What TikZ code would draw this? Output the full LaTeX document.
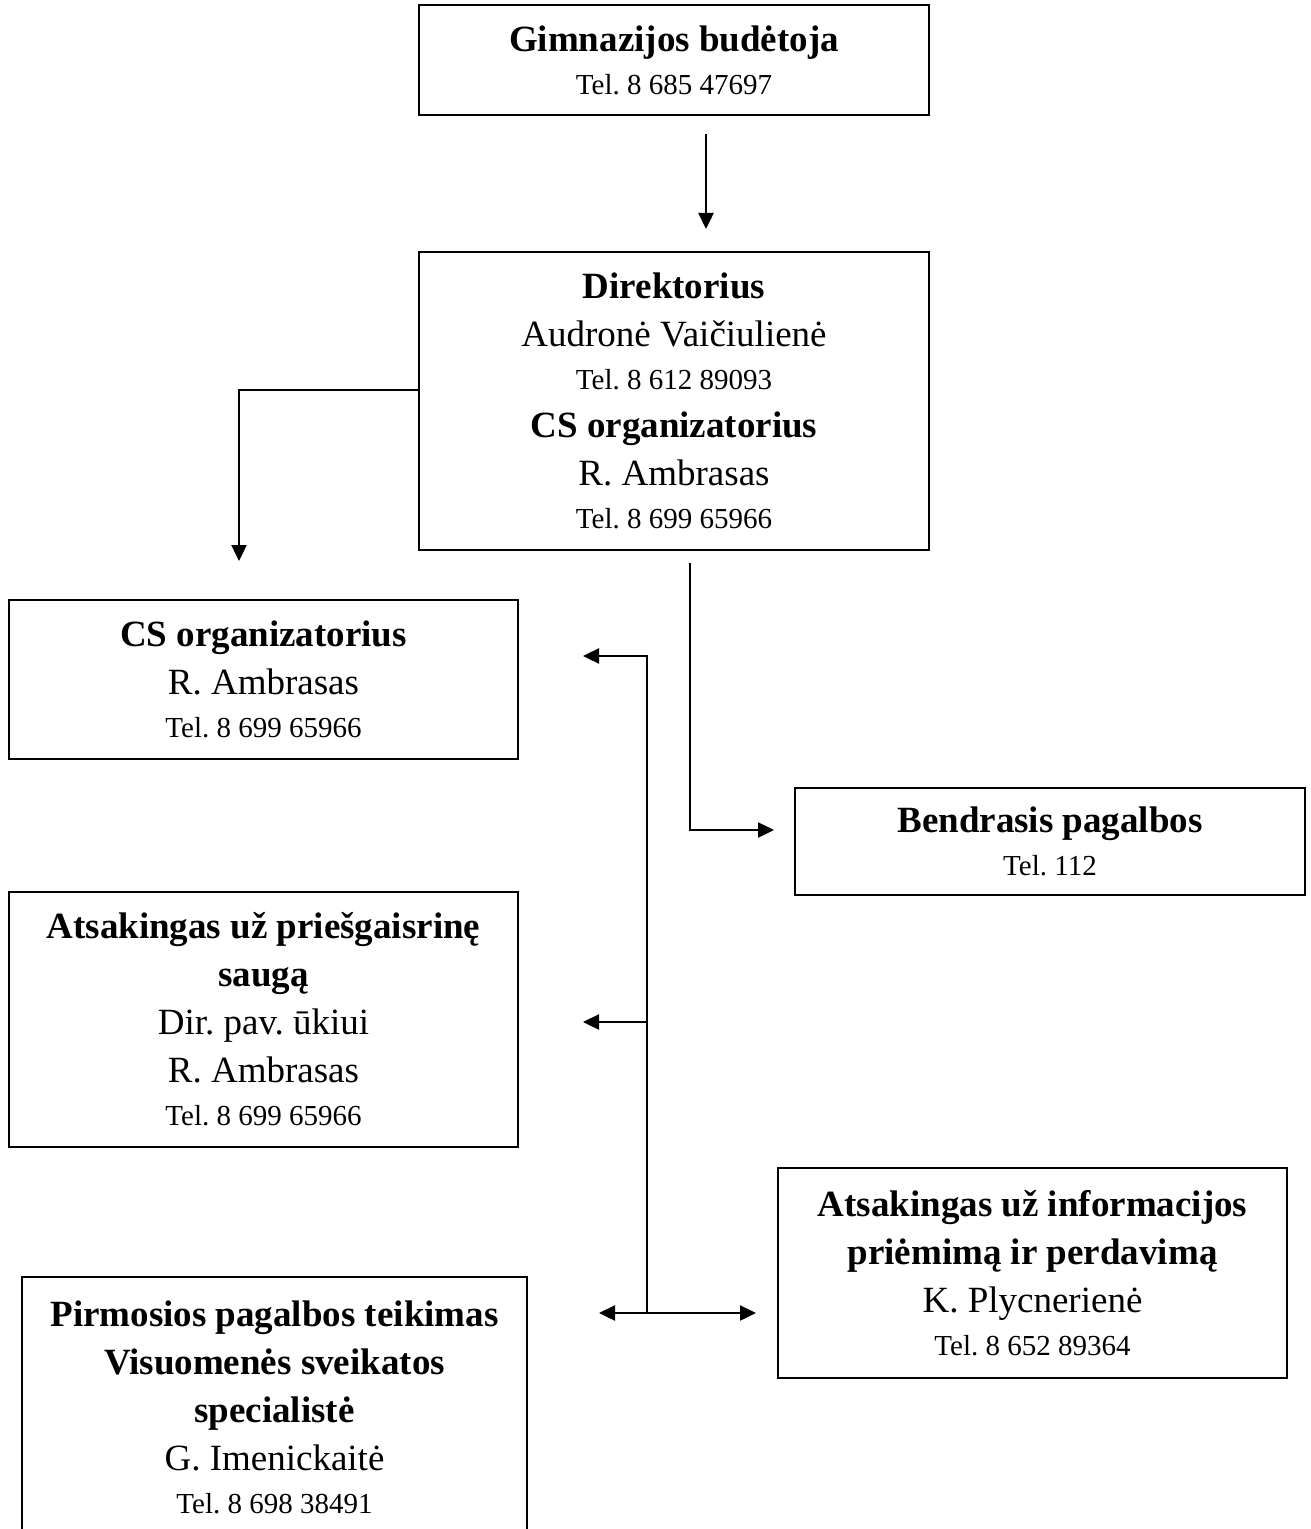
\documentclass[tikz,border=0pt]{standalone}
\usepackage{fontspec}
\setmainfont{Liberation Serif}
\usetikzlibrary{arrows.meta}
\frenchspacing
\newcommand{\tel}[1]{{\fontsize{14.5}{24}\selectfont #1}}
\newcommand{\boxLine}[0]{1pt}

\begin{document}
\begin{tikzpicture}[x=0.5pt, y=-0.5pt]
  \tikzset{box/.style={draw, line width=\boxLine, rectangle, inner sep=0pt, align=center,
      font=\fontsize{18.5}{24}\selectfont},
    arr/.style={line width=1.2pt, -{Triangle[length=8pt,width=7.5pt]}},
    both/.style={line width=1.2pt, {Triangle[length=8pt,width=7.5pt]}-{Triangle[length=8pt,width=7.5pt]}}}
  \clip (0,0) rectangle (1310,1529);
  \node[box, minimum width=255pt, minimum height=55pt] (budetoja) at (674,60)
    {\textbf{Gimnazijos budėtoja}\\[-2.5pt]\tel{Tel. 8 685 47697}};
  \node[box, minimum width=255pt, minimum height=149pt] (direktorius) at (674,401)
    {\textbf{Direktorius}\\Audronė Vaičiulienė\\[-2.5pt]\tel{Tel. 8 612 89093}\\
     \textbf{CS organizatorius}\\R. Ambrasas\\[-2.5pt]\tel{Tel. 8 699 65966}};
  \node[box, minimum width=254.5pt, minimum height=79.5pt] (cs) at (263.5,679.5)
    {\textbf{CS organizatorius}\\R. Ambrasas\\[-2.5pt]\tel{Tel. 8 699 65966}};
  \node[box, minimum width=255pt, minimum height=53.5pt] (bendrasis) at (1050,841.5)
    {\textbf{Bendrasis pagalbos}\\[-2.5pt]\tel{Tel. 112}};
  \node[box, minimum width=254.5pt, minimum height=127.5pt] (gaisras) at (263.5,1019.5)
    {\textbf{Atsakingas už priešgaisrinę}\\\textbf{saugą}\\Dir. pav. ūkiui\\
     R. Ambrasas\\[-2.5pt]\tel{Tel. 8 699 65966}};
  \node[box, minimum width=254.5pt, minimum height=105pt] (info) at (1032.5,1273)
    {\textbf{Atsakingas už informacijos}\\\textbf{priėmimą ir perdavimą}\\
     K. Plycnerienė\\[-2.5pt]\tel{Tel. 8 652 89364}};
  \node[box, minimum width=252.5pt, minimum height=130pt] (pirma) at (274.5,1407)
    {\textbf{Pirmosios pagalbos teikimas}\\\textbf{Visuomenės sveikatos}\\
     \textbf{specialistė}\\G. Imenickaitė\\[-2.5pt]\tel{Tel. 8 698 38491}};
  \coordinate (hub) at (647,1313);

  \draw[arr, shorten <=9pt, shorten >=11pt] ([xshift=16pt]budetoja.south) -- ([xshift=16pt]direktorius.north);
  \draw[arr, shorten >=19pt] ([yshift=5.5pt]direktorius.west) -| ([xshift=-12.25pt]cs.north);
  \draw[arr, shorten >=10pt] ([xshift=8pt, yshift=-6pt]direktorius.south) |- ([yshift=5.75pt]bendrasis.west);
  \draw[arr, shorten >=32pt] (hub) |- ([yshift=11.75pt]cs.east);
  \draw[arr, shorten >=32pt] ([yshift=-1.25pt]gaisras.east -| hub) -- ([yshift=-1.25pt]gaisras.east);
  \draw[both, shorten <=35.5pt, shorten >=10.5pt] (hub -| pirma.east) -- (hub -| info.west);
\end{tikzpicture}
\end{document}
